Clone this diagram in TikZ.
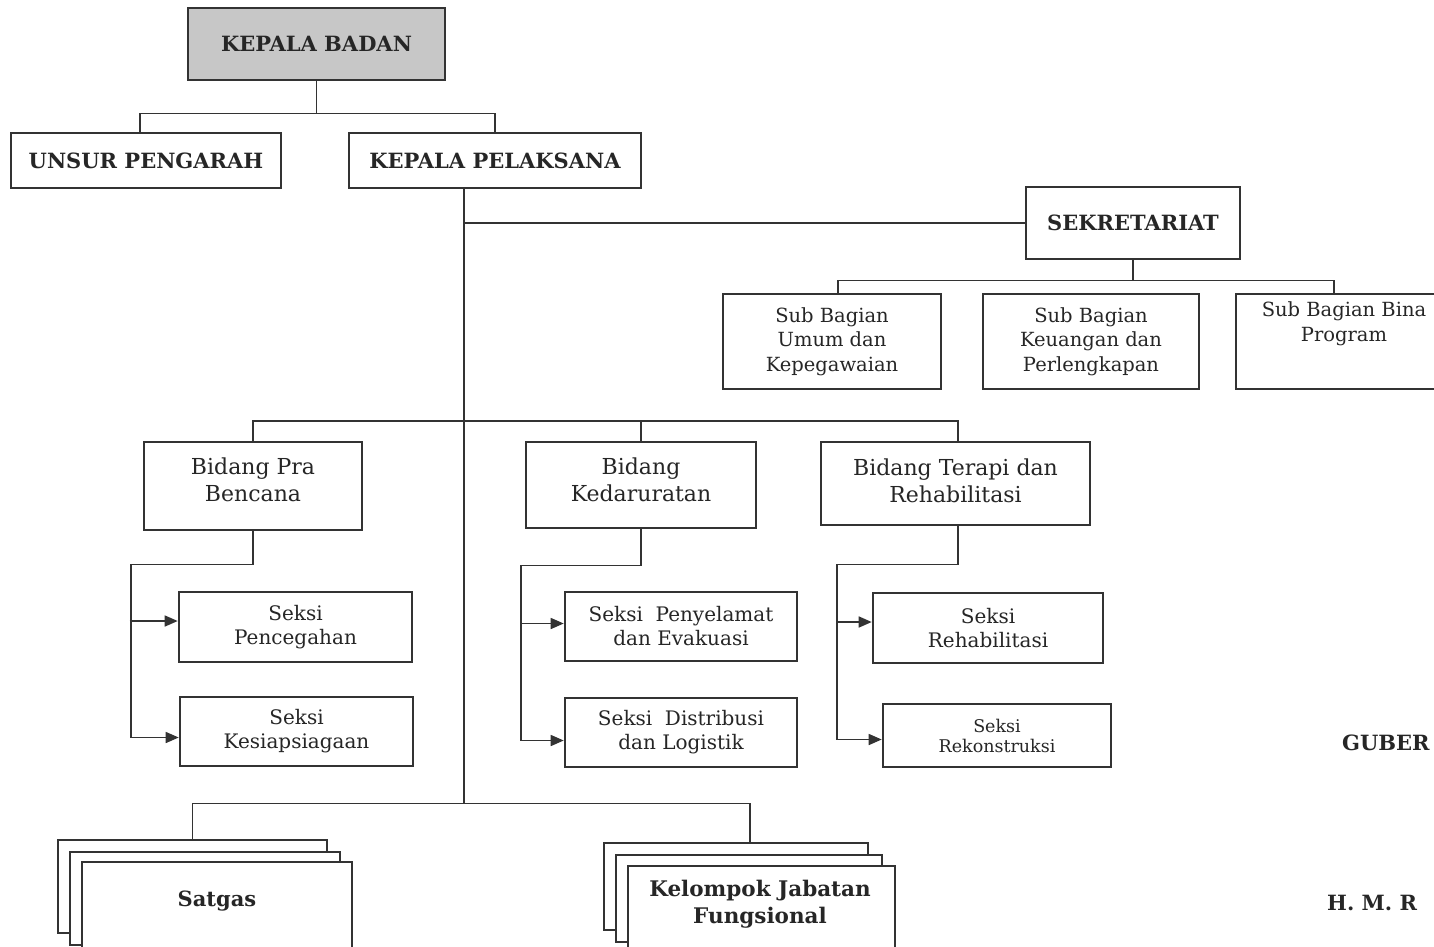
\documentclass[tikz,border=0pt]{standalone}
\usepackage{fontspec}
\setmainfont{DejaVu Serif}
\usetikzlibrary{arrows.meta}
\begin{document}
\begin{tikzpicture}[x=1pt,y=-1pt,
  box/.style={draw=black!80, line width=2.6pt, fill=white, inner sep=0pt, align=center, text=black!85},
  conn/.style={draw=black!80, line width=1.6pt},
  arr/.style={conn, -{Triangle[length=13pt,width=11pt]}},
  capt/.style={font=\bfseries\fontsize{21}{27}\selectfont},
  sub/.style={font=\fontsize{19.5}{24.5}\selectfont},
  bid/.style={font=\fontsize{22}{27}\selectfont},
  sek/.style={font=\fontsize{20}{24}\selectfont},
  lbl/.style={inner sep=0pt, align=center, text=black!85},
]
\useasboundingbox (0,0) rectangle (1434,946);
\clip (0,0) rectangle (1434,946);

% top level
\node[box, capt, fill=black!22, minimum width=257, minimum height=72] (kb) at (316.5,44) {KEPALA BADAN};
\node[box, capt, minimum width=270, minimum height=55] (up) at (146,160.5) {UNSUR PENGARAH};
\node[box, capt, minimum width=292, minimum height=55] (kp) at (495,160.5) {KEPALA PELAKSANA};
\draw[conn] (kb.south) -- ++(0,32) -| ([xshift=-6]up.north);
\draw[conn] (kb.south) ++(0,32) -| (kp.north);

% sekretariat
\node[box, capt, minimum width=214, minimum height=72] (sek) at (1133,223) {SEKRETARIAT};
\node[box, sub, minimum width=218, minimum height=95] (sb1) at (832,341.5) {Sub Bagian\\Umum dan\\Kepegawaian};
\node[box, sub, minimum width=216, minimum height=95] (sb2) at (1091,341.5) {Sub Bagian\\Keuangan dan\\Perlengkapan};
\node[box, minimum width=216, minimum height=95] (sb3) at (1344,341.5) {};
\node[lbl, sub, anchor=north] (sb3t) at ([yshift=-9]sb3.north) {Sub Bagian Bina\\Program};

% trunk
\coordinate (tr) at ([xshift=-31]kp.south);
\draw[conn] (tr) -- ++(0,614) coordinate (tb);
\draw[conn] (tr |- sek.west) -- (sek.west);
\draw[conn] (sek.south) -- ++(0,20) -| ([xshift=6]sb1.north);
\draw[conn] (sek.south) ++(0,20) -| ([xshift=-10]sb3.north);

% bidang
\node[box, minimum width=218, minimum height=88] (bp) at (253,486) {};
\node[lbl, bid] (bpt) at ([yshift=6]bp.center) {Bidang Pra\\Bencana};
\node[box, minimum width=230, minimum height=86] (bk) at (641,485) {};
\node[lbl, bid] (bkt) at ([yshift=5]bk.center) {Bidang\\Kedaruratan};
\node[box, minimum width=269, minimum height=83] (bt) at (955.5,483.5) {};
\node[lbl, bid] (btt) at ([yshift=3]bt.center) {Bidang Terapi dan\\Rehabilitasi};
\draw[conn] (bp.north) -- ++(0,-20) coordinate (hbL) -| ([xshift=2.5]bt.north);
\draw[conn] (bk.north) -- (bk.north |- hbL);

% seksi
\node[box, sek, minimum width=233, minimum height=70] (s1) at (295.5,627) {Seksi\\Pencegahan};
\node[box, sek, minimum width=233, minimum height=69] (s2) at (296.5,731.5) {Seksi\\Kesiapsiagaan};
\node[box, sek, minimum width=232, minimum height=69] (s3) at (681,626.5) {Seksi~ Penyelamat\\dan Evakuasi};
\node[box, sek, minimum width=232, minimum height=69] (s4) at (681,732.5) {Seksi~ Distribusi\\dan Logistik};
\node[box, sek, minimum width=230, minimum height=70] (s5) at (988,628) {Seksi\\Rehabilitasi};
\node[box, font=\fontsize{17.5}{20}\selectfont, minimum width=228, minimum height=63] (s6) at (997,735.5) {Seksi\\Rekonstruksi};

\draw[conn] (bp.south) -- ++(0,33) -| ([xshift=-48,yshift=-6]s2.west);
\draw[arr] ([xshift=-48,yshift=6]s1.west) -- ([yshift=6]s1.west);
\draw[arr] ([xshift=-48,yshift=-6]s2.west) -- ([yshift=-6]s2.west);

\draw[conn] (bk.south) -- ++(0,36) -| ([xshift=-43,yshift=-8]s4.west);
\draw[arr] ([xshift=-43,yshift=3]s3.west) -- ([yshift=3]s3.west);
\draw[arr] ([xshift=-43,yshift=-8]s4.west) -- ([yshift=-8]s4.west);

\draw[conn] ([xshift=2.5]bt.south) -- ++(0,38) -| ([xshift=-45,yshift=-4]s6.west);
\draw[arr] ([xshift=-35,yshift=6]s5.west) -- ([yshift=6]s5.west);
\draw[arr] ([xshift=-45,yshift=-4]s6.west) -- ([yshift=-4]s6.west);

% bottom stacks
\node[box, minimum width=269, minimum height=93] (sa1) at (192.5,886.5) {};
\node[box, minimum width=270, minimum height=93] (sa2) at (205,898.5) {};
\node[box, minimum width=270, minimum height=100] (sa3) at (217,912) {};
\node[lbl, capt] (sat) at (217,901) {Satgas};

\node[box, minimum width=264, minimum height=87] (k1) at (736,886.5) {};
\node[box, minimum width=266, minimum height=87] (k2) at (749,898.5) {};
\node[box, minimum width=267, minimum height=100] (k3) at (761.5,916) {};
\node[lbl, font=\bfseries\fontsize{21.5}{27}\selectfont] (kjf) at (760,904) {Kelompok Jabatan\\Fungsional};

\draw[conn] (sa1.north) |- (tb) -| ([xshift=14]k1.north);

% right side text (cut off)
\node[lbl, capt, anchor=base west] (gub) at (1342,750) {GUBER};
\node[lbl, capt, anchor=base west] (hmr) at (1327,910) {H. M. R};
\end{tikzpicture}
\end{document}
